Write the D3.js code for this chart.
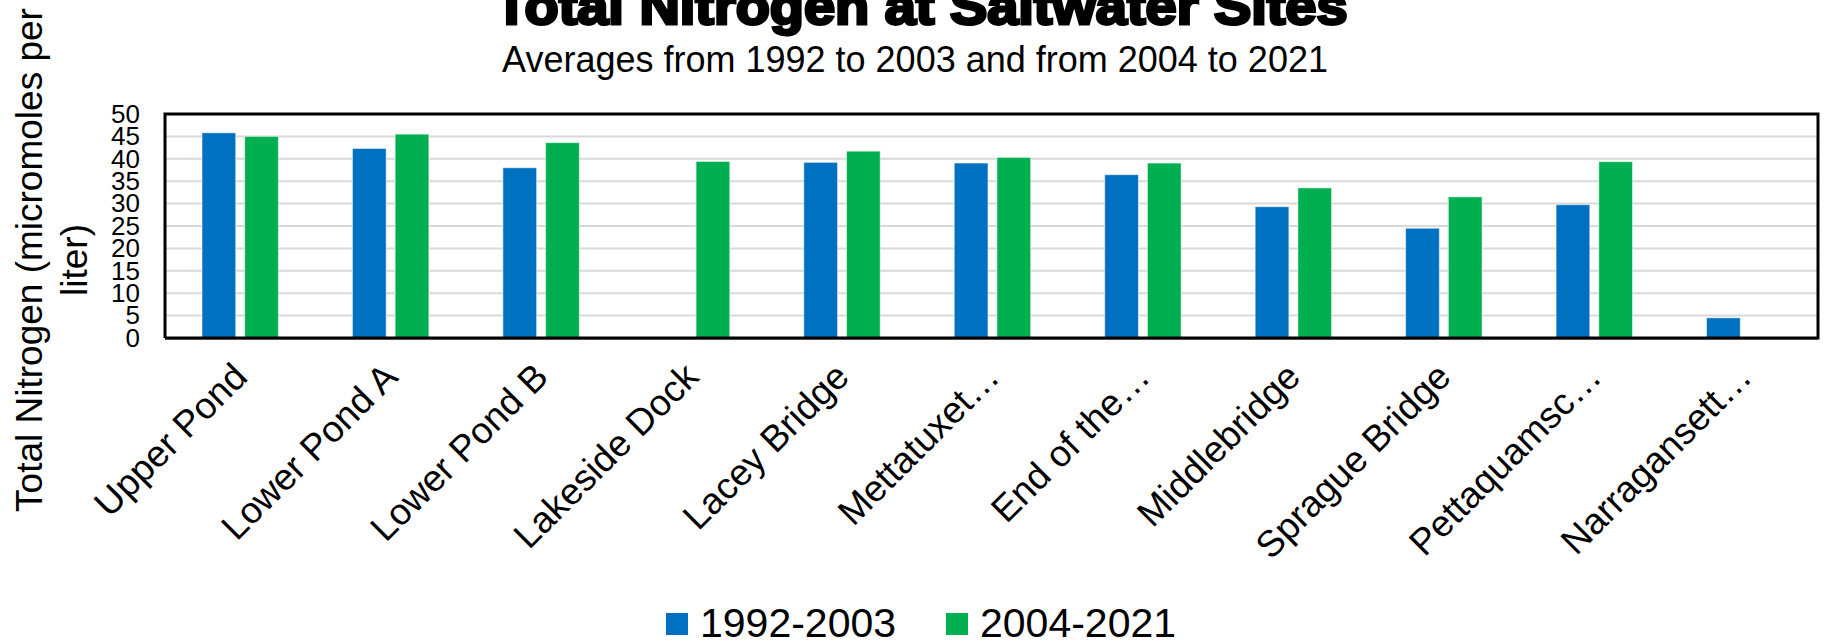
<!DOCTYPE html>
<html>
<head>
<meta charset="utf-8">
<script src="https://cdn.jsdelivr.net/npm/d3@7"></script>
<style>
    body { margin: 0; background: #fff; }
    svg { display: block; font-family: "Liberation Sans", Arial, sans-serif; }
</style>
</head>
<body>
<svg id="chart"></svg>
<script>
const width = 1828, height = 642;
const margin = { top: 114, right: 10, bottom: 304, left: 165 };

// Sites along the x axis (Excel truncated the long names)
const sites = [
    "Upper Pond", "Lower Pond A", "Lower Pond B", "Lakeside Dock", "Lacey Bridge",
    "Mettatuxet…", "End of the…", "Middlebridge", "Sprague Bridge", "Pettaquamsc…", "Narragansett…"
];

// Series names and colours
const seriesNames = ["1992-2003", "2004-2021"];
const seriesColors = ["#0070C0", "#00B050"];

// Average total nitrogen, micromoles per liter (null = no data)
const early = [45.8, 42.3, 38.0, null, 39.2, 39.05, 36.45, 29.3, 24.5, 29.75, 4.5];
const late = [45.0, 45.5, 43.6, 39.4, 41.7, 40.3, 39.05, 33.5, 31.5, 39.35, null];

// y axis ticks
const yTicks = [0, 5, 10, 15, 20, 25, 30, 35, 40, 45, 50];

const svg = d3.select("#chart")
    .attr("width", width)
    .attr("height", height)
    .attr("viewBox", [0, 0, width, height]);

const plotLeft = margin.left, plotRight = width - margin.right;
const plotTop = margin.top, plotBottom = height - margin.bottom;

// Scales
const xScale = d3.scaleBand().domain(sites).range([plotLeft, plotRight + 2]).padding(0);
const xInner = d3.scaleBand().domain(seriesNames).range([37, 113.4]).paddingInner(0.211);
const yScale = d3.scaleLinear().domain([0, 50]).range([plotBottom, plotTop]);

// Gridlines
svg.append("g")
    .attr("class", "grid")
    .selectAll("line")
    .data(yTicks.filter(d => d > 0 && d < 50))
    .enter()
    .append("line")
    .attr("x1", plotLeft)
    .attr("x2", plotRight)
    .attr("y1", d => yScale(d))
    .attr("y2", d => yScale(d))
    .attr("stroke", "#d9d9d9")
    .attr("stroke-width", 2);

// Bars
const rows = sites.map((site, i) => ({ site, values: [early[i], late[i]] }));

svg.append("g")
    .selectAll("g")
    .data(rows)
    .enter()
    .append("g")
    .attr("transform", d => `translate(${xScale(d.site)},0)`)
    .selectAll("rect")
    .data(d => d.values.map((v, k) => ({ key: seriesNames[k], value: v, color: seriesColors[k] })))
    .enter()
    .filter(d => d.value != null)
    .append("rect")
    .attr("x", d => xInner(d.key))
    .attr("width", xInner.bandwidth())
    .attr("y", d => yScale(d.value))
    .attr("height", d => yScale(0) - yScale(d.value))
    .attr("fill", d => d.color)
    .attr("stroke", "#ffffff")
    .attr("stroke-opacity", 0.5)
    .attr("stroke-width", 1);

// Frame round the plot
svg.append("line")
    .attr("x1", plotLeft).attr("x2", plotRight)
    .attr("y1", plotBottom + 1).attr("y2", plotBottom + 1)
    .attr("stroke", "#9a9a9a").attr("stroke-width", 2);
svg.append("path")
    .attr("d", `M${plotLeft},${plotBottom} V${plotTop} H${plotRight} V${plotBottom} H${plotLeft}`)
    .attr("fill", "none")
    .attr("stroke", "#000")
    .attr("stroke-width", 3);

// y axis
const yAxis = svg.append("g")
    .attr("transform", `translate(${plotLeft - 25},0)`)
    .call(d3.axisLeft(yScale).tickValues(yTicks).tickSize(0).tickPadding(0));
yAxis.select(".domain").remove();
yAxis.selectAll("text")
    .attr("font-size", 26)
    .attr("font-family", "Liberation Sans, Arial, sans-serif")
    .attr("fill", "#000");

// x axis labels, rotated
const xAxis = svg.append("g")
    .attr("transform", `translate(0,${plotBottom})`)
    .call(d3.axisBottom(xScale).tickSize(0).tickPadding(0));
xAxis.select(".domain").remove();
xAxis.selectAll("text")
    .attr("font-size", 37)
    .attr("font-family", "Liberation Sans, Arial, sans-serif")
    .attr("fill", "#000")
    .attr("dy", 0)
    .attr("text-anchor", "end")
    .attr("transform", "translate(9,41) rotate(-45)");

// y axis title, two lines
const yTitle = svg.append("text")
    .attr("transform", "translate(42,260) rotate(-90)")
    .attr("text-anchor", "middle")
    .attr("font-size", 37)
    .attr("fill", "#000");
yTitle.append("tspan").attr("x", 0).attr("y", 0).text("Total Nitrogen (micromoles per");
yTitle.append("tspan").attr("x", 0).attr("y", 45).text("liter)");

// Titles
svg.append("text")
    .attr("x", 921)
    .attr("y", 24)
    .attr("text-anchor", "middle")
    .attr("font-size", 52)
    .attr("font-weight", "bold")
    .attr("stroke", "#000")
    .attr("stroke-width", 3)
    .attr("textLength", 853)
    .attr("lengthAdjust", "spacingAndGlyphs")
    .text("Total Nitrogen at Saltwater Sites");

svg.append("text")
    .attr("x", 915)
    .attr("y", 72)
    .attr("text-anchor", "middle")
    .attr("font-size", 36)
    .attr("fill", "#000")
    .text("Averages from 1992 to 2003 and from 2004 to 2021");

// Legend
const legendX = [666, 946];
const legend = svg.append("g")
    .selectAll("g")
    .data(seriesNames)
    .enter()
    .append("g")
    .attr("transform", (d, i) => `translate(${legendX[i]},613)`);
legend.append("rect")
    .attr("width", 22)
    .attr("height", 22)
    .attr("fill", (d, i) => seriesColors[i]);
legend.append("text")
    .attr("x", 34)
    .attr("y", 24)
    .attr("font-size", 41)
    .attr("fill", "#000")
    .text(d => d);
</script>
</body>
</html>
